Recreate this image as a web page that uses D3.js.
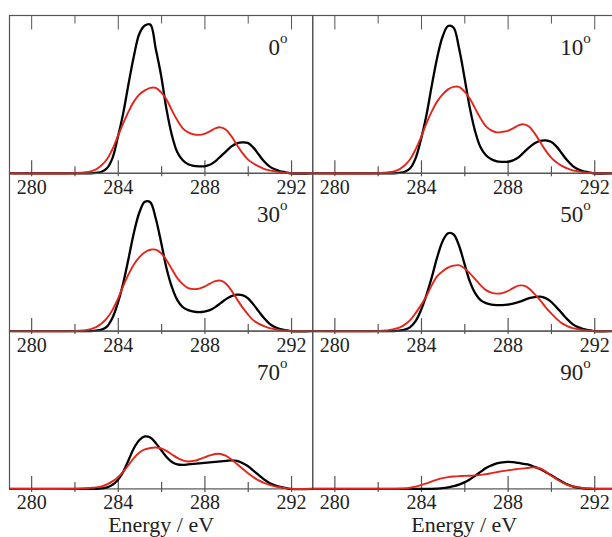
<!DOCTYPE html>
<html>
<head>
<meta charset="utf-8">
<script src="https://cdn.jsdelivr.net/npm/d3@7"></script>
<style>
  body { margin: 0; background: #fff; }
  svg { display: block; }
  svg text { font-family: "Liberation Serif", "Times New Roman", serif; }
</style>
</head>
<body>
<div id="chart"></div>
<script>
// photon energy grid (eV), shared by every spectrum
const energies = [279,
  282, 282.25, 282.5, 282.75, 283, 283.25, 283.5, 283.75,
  284, 284.25, 284.5, 284.75, 285, 285.25, 285.5, 285.75,
  286, 286.25, 286.5, 286.75, 287, 287.25, 287.5, 287.75,
  288, 288.25, 288.5, 288.75, 289, 289.25, 289.5, 289.75,
  290, 290.25, 290.5, 290.75, 291, 291.25, 291.5, 291.75,
  292, 293];

const angles = ["0", "10", "30", "50", "70", "90"];
const majorTicks = [280, 284, 288, 292];
const minorTicks = [282, 286, 290];

// intensities (arb. units), black = first spectrum, red = second
const black0 = [0, 0, 0, 0, 0, 0.5, 1.5, 5, 15, 36, 60, 90, 118, 140, 148, 149, 125, 98, 64, 38, 21, 13, 9, 7.5, 7,
  7, 8.5, 12, 17, 22, 27, 30, 31, 30.5, 26, 19, 12, 7, 4, 2, 1, 0, 0];
const red0 = [0, 0, 0.5, 1, 2, 4, 8, 14, 24, 37, 50, 62, 72, 79, 83, 85.5, 85.5, 81, 74, 63, 53, 45, 41, 39, 38.5,
  39.5, 42, 45, 46, 43.5, 37, 28.5, 20.5, 14, 10, 7, 4.5, 3, 2, 1, 0.5, 0, 0];

const black10 = [0, 0, 0, 0, 0, 0.5, 1.5, 5, 15, 34, 58, 88, 116, 137, 147.5, 146, 126, 97, 66, 42, 26, 18, 14, 12, 11.5,
  11.5, 13, 16, 21, 26, 30, 32.5, 33, 31.5, 27, 20, 13, 7.5, 4, 2, 1, 0, 0];
const red10 = [0, 0, 0.5, 1, 2, 4, 8, 14, 24, 36, 50, 62, 72, 79, 84, 86.5, 86.5, 82, 75, 65, 55, 47, 43, 41, 41.5,
  42.5, 45, 48, 49, 46.5, 40, 31.5, 23, 16, 11, 7.5, 5, 3, 2, 1, 0.5, 0, 0];

const black30 = [0, 0, 0, 0, 0, 0.5, 1.5, 4.5, 13, 28, 48, 73, 99, 119, 129.5, 129, 113, 89, 63, 44, 31, 24, 21, 19.5, 19,
  19.5, 21, 24, 28, 32, 35, 36.5, 36, 33, 27, 20, 13, 7.5, 4, 2, 1, 0, 0];
const red30 = [0, 0, 0.5, 1, 2, 4, 7.5, 13, 21, 32, 45, 57, 67, 74, 79, 81.5, 81.5, 78, 71, 62, 53, 47, 43, 42, 42.5,
  44.5, 47.5, 50, 50.5, 47.5, 40.5, 32, 24, 17, 11, 7.5, 5, 3, 2, 1, 0.5, 0, 0];

const black50 = [0, 0, 0, 0, 0, 0.5, 1.5, 4, 10, 21, 36, 54, 74, 90, 98, 97, 86, 68, 50, 38, 31, 28, 26.5, 26, 26,
  26.5, 27.5, 29, 31, 33, 34, 34.5, 33, 29.5, 24, 18, 12, 7, 4, 2, 1, 0, 0];
const red50 = [0, 0, 0.5, 1, 2, 3.5, 6.5, 11, 18, 26, 35, 46, 55, 60, 63.5, 65.5, 66, 63, 58, 52, 46, 41, 38.5, 37.5, 38,
  40, 43, 45.5, 45.5, 42.5, 37, 31, 24, 18, 12.5, 8, 5, 3, 2, 1, 0.5, 0, 0];

const black70 = [0, 0, 0, 0, 0, 0, 0.5, 1.5, 4, 9, 17, 29, 41, 49, 52.5, 51.5, 46, 39, 32, 27, 24.5, 24, 24.5, 25, 25.5,
  26, 26.5, 27, 27.5, 28, 28.5, 28, 26, 23, 18.5, 14, 9.5, 6, 3.5, 2, 1, 0, 0];
const red70 = [0, 0, 0.3, 0.6, 1, 1.5, 2.5, 4.5, 7.5, 11.5, 17, 24, 31, 36.5, 39.5, 41, 41.5, 40.5, 38, 34.5, 31, 28.5, 27.5, 28, 29.5,
  31.5, 33.5, 35, 35, 33, 29.5, 25, 20.5, 16, 12, 8.5, 6, 4, 2.5, 1.5, 0.7, 0, 0];

const black90 = [0, 0, 0, 0, 0, 0, 0, 0, 0, 0, 0, 0.1, 0.3, 0.7, 1.5, 2.7, 4.2, 6.5, 9.5, 13, 17, 21, 23.5, 25.5, 26.5,
  27, 26.8, 26, 25, 24, 22, 20, 17, 14, 10.5, 7.5, 4.5, 2.5, 1.3, 0.6, 0.2, 0, 0];
const red90 = [0, 0, 0, 0, 0, 0.2, 0.5, 1.2, 2.3, 3.8, 5.5, 7.5, 9.3, 10.8, 11.8, 12.4, 12.8, 13, 13.2, 13.5, 14, 14.8, 15.8, 16.8, 17.8,
  18.6, 19.3, 20, 20.6, 21.2, 21.5, 20.5, 17.5, 13.5, 10, 6.8, 4.3, 2.6, 1.5, 0.8, 0.3, 0, 0];

const blackSeries = [black0, black10, black30, black50, black70, black90];
const redSeries = [red0, red10, red30, red50, red70, red90];

// layout
const W = 612, H = 537;
const left0 = 9.5, top0 = 15.5;
const panelW = 303.2, rowH = 157.8;
const labelY = [39.5, 49, 49];
const tickLabelY = [21, 21, 20];
const frameColor = "#555";
const redColor = "#e3261c";
const serif = "Liberation Serif";

const svg = d3.select("#chart").append("svg")
  .attr("width", W)
  .attr("height", H);

const x = d3.scaleLinear().domain([279, 293]).range([0, panelW]);
const y = d3.scaleLinear().domain([0, 158]).range([rowH, 0]);

const line = d3.line()
  .x((d, i) => x(energies[i]))
  .y(d => y(Math.max(0, d)))
  .curve(d3.curveCatmullRom.alpha(0.5));

angles.forEach((angle, i) => {
  const col = i % 2, row = Math.floor(i / 2);
  const g = svg.append("g")
    .attr("transform", `translate(${left0 + col * panelW},${top0 + row * rowH})`);

  // frame
  g.append("rect")
    .attr("width", panelW)
    .attr("height", rowH)
    .attr("fill", "none")
    .attr("stroke", frameColor)
    .attr("stroke-width", 1.2);

  // top ticks only on the first row
  if (row === 0) {
    g.append("g")
      .call(d3.axisTop(x).tickValues(majorTicks).tickSize(-14).tickFormat(""))
      .call(a => a.select(".domain").remove())
      .attr("color", frameColor);
    g.append("g")
      .call(d3.axisTop(x).tickValues(minorTicks).tickSize(-8).tickFormat(""))
      .call(a => a.select(".domain").remove())
      .attr("color", frameColor);
  }

  // bottom axis with labels
  const xAxis = g.append("g")
    .attr("transform", `translate(0,${rowH})`)
    .call(d3.axisBottom(x).tickValues(majorTicks).tickSizeInner(-13).tickSizeOuter(0).tickFormat(d3.format("d")))
    .attr("color", frameColor)
    .attr("font-family", serif)
    .attr("font-size", 20);
  xAxis.select(".domain").remove();
  xAxis.selectAll(".tick line").attr("y1", 3).attr("stroke-width", 1.2);
  xAxis.selectAll(".tick text")
    .attr("y", tickLabelY[row]).attr("dy", null)
    .attr("fill", "#222")
    .attr("font-family", serif);

  g.append("g")
    .attr("transform", `translate(0,${rowH})`)
    .call(d3.axisBottom(x).tickValues(minorTicks).tickSize(-7).tickFormat(""))
    .call(a => a.select(".domain").remove())
    .attr("color", frameColor)
    .selectAll(".tick line").attr("y1", 3).attr("stroke-width", 1.2);

  // spectra
  g.append("path")
    .datum(blackSeries[i])
    .attr("d", line)
    .attr("fill", "none")
    .attr("stroke", "#000")
    .attr("stroke-width", 2.3);

  g.append("path")
    .datum(redSeries[i])
    .attr("d", line)
    .attr("fill", "none")
    .attr("stroke", redColor)
    .attr("stroke-width", 1.9);

  // angle label
  const t = g.append("text")
    .attr("x", 278)
    .attr("y", labelY[row])
    .attr("text-anchor", "end")
    .attr("font-family", serif)
    .attr("font-size", 23)
    .attr("fill", "#222")
    .text(angle);
  t.append("tspan")
    .attr("dy", -12)
    .attr("font-size", 15)
    .text("o");

  if (row === 2) {
    g.append("text")
      .attr("x", panelW / 2)
      .attr("y", rowH + 43.5)
      .attr("text-anchor", "middle")
      .attr("font-family", serif)
      .attr("font-size", 22)
      .attr("fill", "#222")
      .text("Energy / eV");
  }
});
</script>
</body>
</html>
